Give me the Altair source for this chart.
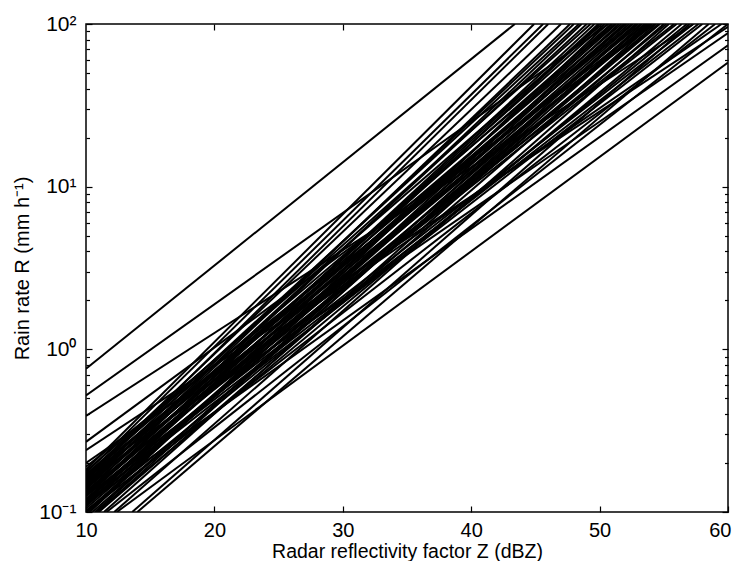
import altair as alt
import pandas as pd

# Each line: where it enters the frame (left or bottom edge)
# and where it leaves it (top or right edge).
x_start = [10, 10, 10, 10, 10,
           10, 10, 12.4,
           10, 10, 10, 10, 10, 10, 10, 10, 10, 10,
           10, 10, 10, 10, 10.7, 10, 10, 10, 11.4, 10,
           12.2, 10, 10.8, 13.6, 10, 14.0, 10, 10, 11.6, 10.3,
           10, 10, 10, 10.5, 10, 10, 10, 10, 10, 11.0, 10, 10,
           10, 10, 10, 10, 10, 10.2, 10, 10, 10, 10, 10, 10, 10, 10, 10.9, 10]
r_start = [0.76, 0.52, 0.39, 0.27, 0.24,
           0.166, 0.112, 0.1,
           0.182, 0.174, 0.158, 0.166, 0.141, 0.151, 0.132, 0.126, 0.178, 0.112,
           0.158, 0.100, 0.138, 0.120, 0.1, 0.166, 0.105, 0.132, 0.1, 0.112,
           0.1, 0.148, 0.1, 0.1, 0.120, 0.1, 0.100, 0.20, 0.1, 0.1,
           0.13, 0.15, 0.12, 0.1, 0.16, 0.145, 0.11, 0.17, 0.135, 0.1, 0.125, 0.19,
           0.115, 0.145, 0.125, 0.155, 0.108, 0.1, 0.14, 0.118, 0.162, 0.13, 0.102,
           0.15, 0.17, 0.128, 0.1, 0.115]
x_end = [43.4, 50.7, 57.3, 54.3, 60,
         60, 60, 60,
         44.9, 45.6, 46.0, 47.0, 47.7, 48.0, 48.6, 49.6, 50.2, 51.0,
         51.7, 52.0, 52.3, 52.6, 52.9, 53.2, 53.5, 53.8, 54.1, 54.7,
         55.4, 55.8, 56.4, 57.0, 57.7, 58.5, 59.0, 59.5, 60.0, 50.6,
         51.3, 50.9, 53.0, 53.7, 52.5, 54.0, 54.4, 49.3, 56.0, 55.0, 57.3, 53.6,
         50.0, 49.0, 51.9, 53.9, 52.8, 51.5, 50.4, 55.2, 48.4, 54.6, 56.8,
         52.1, 51.2, 49.9, 53.3, 58.0]
r_end = [100, 100, 100, 100, 96,
         88, 74, 58,
         100, 100, 100, 100, 100, 100, 100, 100, 100, 100,
         100, 100, 100, 100, 100, 100, 100, 100, 100, 100,
         100, 100, 100, 100, 100, 100, 100, 100, 100, 100,
         100, 100, 100, 100, 100, 100, 100, 100, 100, 100, 100, 100,
         100, 100, 100, 100, 100, 100, 100, 100, 100, 100, 100,
         100, 100, 100, 100, 100]

x_ticks = [10, 20, 30, 40, 50]
x_last = [60]
x_inner_ticks = [20, 30, 40, 50]
y_ticks = [0.1, 1, 10, 100]
y_minor = [0.2, 0.3, 0.4, 0.5, 0.6, 0.7, 0.8, 0.9,
           2, 3, 4, 5, 6, 7, 8, 9,
           20, 30, 40, 50, 60, 70, 80, 90]

rows = []
for i, (xs, rs, xe, re) in enumerate(zip(x_start, r_start, x_end, r_end)):
    rows.append({"line": i, "dbz": xs, "rate": rs})
    rows.append({"line": i, "dbz": xe, "rate": re})
df = pd.DataFrame(rows)

FONT = "Liberation Sans"
xscale = alt.Scale(domain=[10, 60], nice=False, zero=False)
yscale = alt.Scale(type="log", domain=[0.1, 100], nice=False)

common = dict(grid=False, domain=False, tickColor="black", tickWidth=1.2,
              labelColor="black", titleColor="black")

base = alt.Chart(df)

lines = base.mark_line(color="black", strokeWidth=2.0, clip=True).encode(
    x=alt.X("dbz:Q", scale=xscale,
            axis=alt.Axis(orient="bottom", values=x_ticks, offset=-6, tickSize=6,
                          labelFont=FONT, labelFontSize=20, labelPadding=8,
                          labelFlush=False,
                          title="Radar reflectivity factor Z (dBZ)",
                          titleFont=FONT, titleFontSize=19.5, titleFontWeight="normal",
                          titleBaseline="alphabetic", titleY=51, **common)),
    y=alt.Y("rate:Q", scale=yscale,
            axis=alt.Axis(orient="left", values=y_ticks, offset=-6, tickSize=6,
                          labelFont=FONT, labelFontSize=21, labelPadding=10,
                          labelFlush=False,
                          labelExpr="datum.value >= 99 ? '10²' : datum.value >= 9 ? '10¹' : datum.value >= 0.9 ? '10⁰' : '10⁻¹'",
                          title="Rain rate R (mm h⁻¹)",
                          titleFont=FONT, titleFontSize=20, titleFontWeight="normal",
                          titlePadding=6, **common)),
    detail="line:N",
)

last_label = base.mark_line(strokeOpacity=0).encode(
    x=alt.X("dbz:Q", scale=xscale,
            axis=alt.Axis(orient="bottom", values=x_last, offset=-6, tickSize=6,
                          labelFont=FONT, labelFontSize=20, labelPadding=8,
                          labelFlush=True, labelFlushOffset=3,
                          title=None, **common)),
    y=alt.Y("rate:Q", scale=yscale, axis=None),
    detail="line:N",
)

ticks_tr = base.mark_line(strokeOpacity=0).encode(
    x=alt.X("dbz:Q", scale=xscale,
            axis=alt.Axis(orient="top", values=x_inner_ticks, offset=-6, tickSize=6,
                          labels=False, title=None, **common)),
    y=alt.Y("rate:Q", scale=yscale,
            axis=alt.Axis(orient="right", values=y_ticks, offset=-6, tickSize=6,
                          labels=False, title=None, **common)),
    detail="line:N",
)

minor_left = base.mark_line(strokeOpacity=0).encode(
    x=alt.X("dbz:Q", scale=xscale, axis=None),
    y=alt.Y("rate:Q", scale=yscale,
            axis=alt.Axis(orient="left", values=y_minor, offset=-3.5, tickSize=3.5,
                          labels=False, title=None, **common)),
    detail="line:N",
)

minor_right = base.mark_line(strokeOpacity=0).encode(
    x=alt.X("dbz:Q", scale=xscale, axis=None),
    y=alt.Y("rate:Q", scale=yscale,
            axis=alt.Axis(orient="right", values=y_minor, offset=-3.5, tickSize=3.5,
                          labels=False, title=None, **common)),
    detail="line:N",
)

chart = (
    alt.layer(lines, last_label, ticks_tr, minor_left, minor_right)
    .resolve_scale(x="independent", y="independent")
    .resolve_axis(x="independent", y="independent")
    .properties(
        width=642, height=488,
        autosize=alt.AutoSizeParams(type="none"),
        padding={"left": 78, "top": 16, "right": 4, "bottom": 49},
        background="white",
    )
    .configure_view(stroke="black", strokeWidth=1.5)
)

chart.save("out.html", embed_options={"renderer": "svg", "actions": False})
